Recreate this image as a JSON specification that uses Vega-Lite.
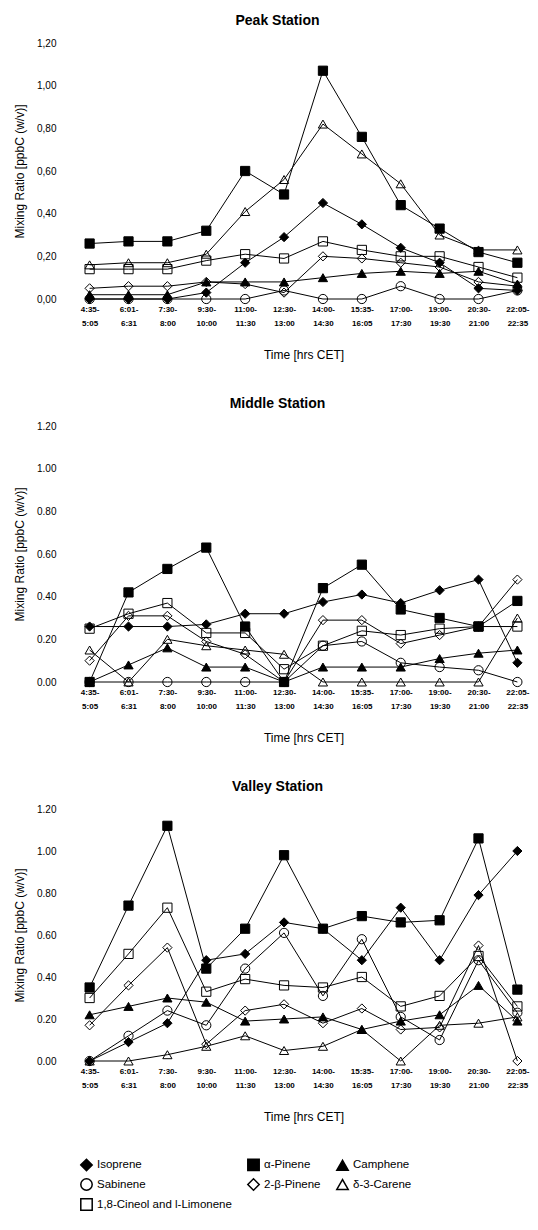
{
  "$schema": "https://vega.github.io/schema/vega-lite/v6.json",
  "background": "white",
  "padding": {"left": 13, "top": 14, "right": 3, "bottom": 5},
  "config": {
    "font": "Liberation Sans",
    "view": {"stroke": null},
    "axis": {"domain": false, "ticks": false, "grid": false, "labelColor": "black", "titleColor": "black"},
    "title": {"fontSize": 14, "fontWeight": "bold", "color": "black", "anchor": "middle", "offset": 10, "dx": -26},
    "legend": {"orient": "bottom", "columns": 3, "title": null, "labelFontSize": 11.5, "labelColor": "black", "symbolSize": 130, "rowPadding": 1, "columnPadding": 12, "offset": 32, "padding": 4}
  },
  "data": {"values": [
    {"s":"Peak","t":"4:35-|5:05","c":"Isoprene","v":0},
    {"s":"Peak","t":"6:01-|6:31","c":"Isoprene","v":0},
    {"s":"Peak","t":"7:30-|8:00","c":"Isoprene","v":0},
    {"s":"Peak","t":"9:30-|10:00","c":"Isoprene","v":0.03},
    {"s":"Peak","t":"11:00-|11:30","c":"Isoprene","v":0.17},
    {"s":"Peak","t":"12:30-|13:00","c":"Isoprene","v":0.29},
    {"s":"Peak","t":"14:00-|14:30","c":"Isoprene","v":0.45},
    {"s":"Peak","t":"15:35-|16:05","c":"Isoprene","v":0.35},
    {"s":"Peak","t":"17:00-|17:30","c":"Isoprene","v":0.24},
    {"s":"Peak","t":"19:00-|19:30","c":"Isoprene","v":0.17},
    {"s":"Peak","t":"20:30-|21:00","c":"Isoprene","v":0.05},
    {"s":"Peak","t":"22:05-|22:35","c":"Isoprene","v":0.04},
    {"s":"Peak","t":"4:35-|5:05","c":"α-Pinene","v":0.26},
    {"s":"Peak","t":"6:01-|6:31","c":"α-Pinene","v":0.27},
    {"s":"Peak","t":"7:30-|8:00","c":"α-Pinene","v":0.27},
    {"s":"Peak","t":"9:30-|10:00","c":"α-Pinene","v":0.32},
    {"s":"Peak","t":"11:00-|11:30","c":"α-Pinene","v":0.60},
    {"s":"Peak","t":"12:30-|13:00","c":"α-Pinene","v":0.49},
    {"s":"Peak","t":"14:00-|14:30","c":"α-Pinene","v":1.07},
    {"s":"Peak","t":"15:35-|16:05","c":"α-Pinene","v":0.76},
    {"s":"Peak","t":"17:00-|17:30","c":"α-Pinene","v":0.44},
    {"s":"Peak","t":"19:00-|19:30","c":"α-Pinene","v":0.33},
    {"s":"Peak","t":"20:30-|21:00","c":"α-Pinene","v":0.22},
    {"s":"Peak","t":"22:05-|22:35","c":"α-Pinene","v":0.17},
    {"s":"Peak","t":"4:35-|5:05","c":"Camphene","v":0.02},
    {"s":"Peak","t":"6:01-|6:31","c":"Camphene","v":0.02},
    {"s":"Peak","t":"7:30-|8:00","c":"Camphene","v":0.02},
    {"s":"Peak","t":"9:30-|10:00","c":"Camphene","v":0.08},
    {"s":"Peak","t":"11:00-|11:30","c":"Camphene","v":0.08},
    {"s":"Peak","t":"12:30-|13:00","c":"Camphene","v":0.08},
    {"s":"Peak","t":"14:00-|14:30","c":"Camphene","v":0.10},
    {"s":"Peak","t":"15:35-|16:05","c":"Camphene","v":0.12},
    {"s":"Peak","t":"17:00-|17:30","c":"Camphene","v":0.13},
    {"s":"Peak","t":"19:00-|19:30","c":"Camphene","v":0.12},
    {"s":"Peak","t":"20:30-|21:00","c":"Camphene","v":0.13},
    {"s":"Peak","t":"22:05-|22:35","c":"Camphene","v":0.07},
    {"s":"Peak","t":"4:35-|5:05","c":"Sabinene","v":0},
    {"s":"Peak","t":"6:01-|6:31","c":"Sabinene","v":0},
    {"s":"Peak","t":"7:30-|8:00","c":"Sabinene","v":0},
    {"s":"Peak","t":"9:30-|10:00","c":"Sabinene","v":0},
    {"s":"Peak","t":"11:00-|11:30","c":"Sabinene","v":0},
    {"s":"Peak","t":"12:30-|13:00","c":"Sabinene","v":0.04},
    {"s":"Peak","t":"14:00-|14:30","c":"Sabinene","v":0},
    {"s":"Peak","t":"15:35-|16:05","c":"Sabinene","v":0},
    {"s":"Peak","t":"17:00-|17:30","c":"Sabinene","v":0.06},
    {"s":"Peak","t":"19:00-|19:30","c":"Sabinene","v":0},
    {"s":"Peak","t":"20:30-|21:00","c":"Sabinene","v":0},
    {"s":"Peak","t":"22:05-|22:35","c":"Sabinene","v":0.04},
    {"s":"Peak","t":"4:35-|5:05","c":"2-β-Pinene","v":0.05},
    {"s":"Peak","t":"6:01-|6:31","c":"2-β-Pinene","v":0.06},
    {"s":"Peak","t":"7:30-|8:00","c":"2-β-Pinene","v":0.06},
    {"s":"Peak","t":"9:30-|10:00","c":"2-β-Pinene","v":0.08},
    {"s":"Peak","t":"11:00-|11:30","c":"2-β-Pinene","v":0.07},
    {"s":"Peak","t":"12:30-|13:00","c":"2-β-Pinene","v":0.03},
    {"s":"Peak","t":"14:00-|14:30","c":"2-β-Pinene","v":0.20},
    {"s":"Peak","t":"15:35-|16:05","c":"2-β-Pinene","v":0.19},
    {"s":"Peak","t":"17:00-|17:30","c":"2-β-Pinene","v":0.17},
    {"s":"Peak","t":"19:00-|19:30","c":"2-β-Pinene","v":0.15},
    {"s":"Peak","t":"20:30-|21:00","c":"2-β-Pinene","v":0.08},
    {"s":"Peak","t":"22:05-|22:35","c":"2-β-Pinene","v":0.06},
    {"s":"Peak","t":"4:35-|5:05","c":"δ-3-Carene","v":0.16},
    {"s":"Peak","t":"6:01-|6:31","c":"δ-3-Carene","v":0.17},
    {"s":"Peak","t":"7:30-|8:00","c":"δ-3-Carene","v":0.17},
    {"s":"Peak","t":"9:30-|10:00","c":"δ-3-Carene","v":0.21},
    {"s":"Peak","t":"11:00-|11:30","c":"δ-3-Carene","v":0.41},
    {"s":"Peak","t":"12:30-|13:00","c":"δ-3-Carene","v":0.56},
    {"s":"Peak","t":"14:00-|14:30","c":"δ-3-Carene","v":0.82},
    {"s":"Peak","t":"15:35-|16:05","c":"δ-3-Carene","v":0.68},
    {"s":"Peak","t":"17:00-|17:30","c":"δ-3-Carene","v":0.54},
    {"s":"Peak","t":"19:00-|19:30","c":"δ-3-Carene","v":0.30},
    {"s":"Peak","t":"20:30-|21:00","c":"δ-3-Carene","v":0.23},
    {"s":"Peak","t":"22:05-|22:35","c":"δ-3-Carene","v":0.23},
    {"s":"Peak","t":"4:35-|5:05","c":"1,8-Cineol and l-Limonene","v":0.14},
    {"s":"Peak","t":"6:01-|6:31","c":"1,8-Cineol and l-Limonene","v":0.14},
    {"s":"Peak","t":"7:30-|8:00","c":"1,8-Cineol and l-Limonene","v":0.14},
    {"s":"Peak","t":"9:30-|10:00","c":"1,8-Cineol and l-Limonene","v":0.18},
    {"s":"Peak","t":"11:00-|11:30","c":"1,8-Cineol and l-Limonene","v":0.21},
    {"s":"Peak","t":"12:30-|13:00","c":"1,8-Cineol and l-Limonene","v":0.19},
    {"s":"Peak","t":"14:00-|14:30","c":"1,8-Cineol and l-Limonene","v":0.27},
    {"s":"Peak","t":"15:35-|16:05","c":"1,8-Cineol and l-Limonene","v":0.23},
    {"s":"Peak","t":"17:00-|17:30","c":"1,8-Cineol and l-Limonene","v":0.20},
    {"s":"Peak","t":"19:00-|19:30","c":"1,8-Cineol and l-Limonene","v":0.20},
    {"s":"Peak","t":"20:30-|21:00","c":"1,8-Cineol and l-Limonene","v":0.15},
    {"s":"Peak","t":"22:05-|22:35","c":"1,8-Cineol and l-Limonene","v":0.10},

    {"s":"Middle","t":"4:35-|5:05","c":"Isoprene","v":0.26},
    {"s":"Middle","t":"6:01-|6:31","c":"Isoprene","v":0.26},
    {"s":"Middle","t":"7:30-|8:00","c":"Isoprene","v":0.26},
    {"s":"Middle","t":"9:30-|10:00","c":"Isoprene","v":0.27},
    {"s":"Middle","t":"11:00-|11:30","c":"Isoprene","v":0.32},
    {"s":"Middle","t":"12:30-|13:00","c":"Isoprene","v":0.32},
    {"s":"Middle","t":"14:00-|14:30","c":"Isoprene","v":0.375},
    {"s":"Middle","t":"15:35-|16:05","c":"Isoprene","v":0.41},
    {"s":"Middle","t":"17:00-|17:30","c":"Isoprene","v":0.37},
    {"s":"Middle","t":"19:00-|19:30","c":"Isoprene","v":0.43},
    {"s":"Middle","t":"20:30-|21:00","c":"Isoprene","v":0.48},
    {"s":"Middle","t":"22:05-|22:35","c":"Isoprene","v":0.09},
    {"s":"Middle","t":"4:35-|5:05","c":"α-Pinene","v":0},
    {"s":"Middle","t":"6:01-|6:31","c":"α-Pinene","v":0.42},
    {"s":"Middle","t":"7:30-|8:00","c":"α-Pinene","v":0.53},
    {"s":"Middle","t":"9:30-|10:00","c":"α-Pinene","v":0.63},
    {"s":"Middle","t":"11:00-|11:30","c":"α-Pinene","v":0.26},
    {"s":"Middle","t":"12:30-|13:00","c":"α-Pinene","v":0},
    {"s":"Middle","t":"14:00-|14:30","c":"α-Pinene","v":0.44},
    {"s":"Middle","t":"15:35-|16:05","c":"α-Pinene","v":0.55},
    {"s":"Middle","t":"17:00-|17:30","c":"α-Pinene","v":0.34},
    {"s":"Middle","t":"19:00-|19:30","c":"α-Pinene","v":0.30},
    {"s":"Middle","t":"20:30-|21:00","c":"α-Pinene","v":0.26},
    {"s":"Middle","t":"22:05-|22:35","c":"α-Pinene","v":0.38},
    {"s":"Middle","t":"4:35-|5:05","c":"Camphene","v":0},
    {"s":"Middle","t":"6:01-|6:31","c":"Camphene","v":0.08},
    {"s":"Middle","t":"7:30-|8:00","c":"Camphene","v":0.16},
    {"s":"Middle","t":"9:30-|10:00","c":"Camphene","v":0.07},
    {"s":"Middle","t":"11:00-|11:30","c":"Camphene","v":0.07},
    {"s":"Middle","t":"12:30-|13:00","c":"Camphene","v":0},
    {"s":"Middle","t":"14:00-|14:30","c":"Camphene","v":0.07},
    {"s":"Middle","t":"15:35-|16:05","c":"Camphene","v":0.07},
    {"s":"Middle","t":"17:00-|17:30","c":"Camphene","v":0.07},
    {"s":"Middle","t":"19:00-|19:30","c":"Camphene","v":0.11},
    {"s":"Middle","t":"20:30-|21:00","c":"Camphene","v":0.135},
    {"s":"Middle","t":"22:05-|22:35","c":"Camphene","v":0.15},
    {"s":"Middle","t":"4:35-|5:05","c":"Sabinene","v":0},
    {"s":"Middle","t":"6:01-|6:31","c":"Sabinene","v":0},
    {"s":"Middle","t":"7:30-|8:00","c":"Sabinene","v":0},
    {"s":"Middle","t":"9:30-|10:00","c":"Sabinene","v":0},
    {"s":"Middle","t":"11:00-|11:30","c":"Sabinene","v":0},
    {"s":"Middle","t":"12:30-|13:00","c":"Sabinene","v":0},
    {"s":"Middle","t":"14:00-|14:30","c":"Sabinene","v":0.17},
    {"s":"Middle","t":"15:35-|16:05","c":"Sabinene","v":0.19},
    {"s":"Middle","t":"17:00-|17:30","c":"Sabinene","v":0.09},
    {"s":"Middle","t":"19:00-|19:30","c":"Sabinene","v":0.07},
    {"s":"Middle","t":"20:30-|21:00","c":"Sabinene","v":0.055},
    {"s":"Middle","t":"22:05-|22:35","c":"Sabinene","v":0},
    {"s":"Middle","t":"4:35-|5:05","c":"2-β-Pinene","v":0.10},
    {"s":"Middle","t":"6:01-|6:31","c":"2-β-Pinene","v":0.31},
    {"s":"Middle","t":"7:30-|8:00","c":"2-β-Pinene","v":0.31},
    {"s":"Middle","t":"9:30-|10:00","c":"2-β-Pinene","v":0.19},
    {"s":"Middle","t":"11:00-|11:30","c":"2-β-Pinene","v":0.13},
    {"s":"Middle","t":"12:30-|13:00","c":"2-β-Pinene","v":0},
    {"s":"Middle","t":"14:00-|14:30","c":"2-β-Pinene","v":0.29},
    {"s":"Middle","t":"15:35-|16:05","c":"2-β-Pinene","v":0.29},
    {"s":"Middle","t":"17:00-|17:30","c":"2-β-Pinene","v":0.18},
    {"s":"Middle","t":"19:00-|19:30","c":"2-β-Pinene","v":0.22},
    {"s":"Middle","t":"20:30-|21:00","c":"2-β-Pinene","v":0.26},
    {"s":"Middle","t":"22:05-|22:35","c":"2-β-Pinene","v":0.48},
    {"s":"Middle","t":"4:35-|5:05","c":"δ-3-Carene","v":0.15},
    {"s":"Middle","t":"6:01-|6:31","c":"δ-3-Carene","v":0},
    {"s":"Middle","t":"7:30-|8:00","c":"δ-3-Carene","v":0.20},
    {"s":"Middle","t":"9:30-|10:00","c":"δ-3-Carene","v":0.17},
    {"s":"Middle","t":"11:00-|11:30","c":"δ-3-Carene","v":0.15},
    {"s":"Middle","t":"12:30-|13:00","c":"δ-3-Carene","v":0.13},
    {"s":"Middle","t":"14:00-|14:30","c":"δ-3-Carene","v":0},
    {"s":"Middle","t":"15:35-|16:05","c":"δ-3-Carene","v":0},
    {"s":"Middle","t":"17:00-|17:30","c":"δ-3-Carene","v":0},
    {"s":"Middle","t":"19:00-|19:30","c":"δ-3-Carene","v":0},
    {"s":"Middle","t":"20:30-|21:00","c":"δ-3-Carene","v":0},
    {"s":"Middle","t":"22:05-|22:35","c":"δ-3-Carene","v":0.30},
    {"s":"Middle","t":"4:35-|5:05","c":"1,8-Cineol and l-Limonene","v":0.25},
    {"s":"Middle","t":"6:01-|6:31","c":"1,8-Cineol and l-Limonene","v":0.32},
    {"s":"Middle","t":"7:30-|8:00","c":"1,8-Cineol and l-Limonene","v":0.37},
    {"s":"Middle","t":"9:30-|10:00","c":"1,8-Cineol and l-Limonene","v":0.23},
    {"s":"Middle","t":"11:00-|11:30","c":"1,8-Cineol and l-Limonene","v":0.23},
    {"s":"Middle","t":"12:30-|13:00","c":"1,8-Cineol and l-Limonene","v":0.06},
    {"s":"Middle","t":"14:00-|14:30","c":"1,8-Cineol and l-Limonene","v":0.17},
    {"s":"Middle","t":"15:35-|16:05","c":"1,8-Cineol and l-Limonene","v":0.24},
    {"s":"Middle","t":"17:00-|17:30","c":"1,8-Cineol and l-Limonene","v":0.22},
    {"s":"Middle","t":"19:00-|19:30","c":"1,8-Cineol and l-Limonene","v":0.25},
    {"s":"Middle","t":"20:30-|21:00","c":"1,8-Cineol and l-Limonene","v":0.26},
    {"s":"Middle","t":"22:05-|22:35","c":"1,8-Cineol and l-Limonene","v":0.26},

    {"s":"Valley","t":"4:35-|5:05","c":"Isoprene","v":0},
    {"s":"Valley","t":"6:01-|6:31","c":"Isoprene","v":0.09},
    {"s":"Valley","t":"7:30-|8:00","c":"Isoprene","v":0.18},
    {"s":"Valley","t":"9:30-|10:00","c":"Isoprene","v":0.48},
    {"s":"Valley","t":"11:00-|11:30","c":"Isoprene","v":0.51},
    {"s":"Valley","t":"12:30-|13:00","c":"Isoprene","v":0.66},
    {"s":"Valley","t":"14:00-|14:30","c":"Isoprene","v":0.63},
    {"s":"Valley","t":"15:35-|16:05","c":"Isoprene","v":0.48},
    {"s":"Valley","t":"17:00-|17:30","c":"Isoprene","v":0.73},
    {"s":"Valley","t":"19:00-|19:30","c":"Isoprene","v":0.48},
    {"s":"Valley","t":"20:30-|21:00","c":"Isoprene","v":0.79},
    {"s":"Valley","t":"22:05-|22:35","c":"Isoprene","v":1.00},
    {"s":"Valley","t":"4:35-|5:05","c":"α-Pinene","v":0.35},
    {"s":"Valley","t":"6:01-|6:31","c":"α-Pinene","v":0.74},
    {"s":"Valley","t":"7:30-|8:00","c":"α-Pinene","v":1.12},
    {"s":"Valley","t":"9:30-|10:00","c":"α-Pinene","v":0.44},
    {"s":"Valley","t":"11:00-|11:30","c":"α-Pinene","v":0.63},
    {"s":"Valley","t":"12:30-|13:00","c":"α-Pinene","v":0.98},
    {"s":"Valley","t":"14:00-|14:30","c":"α-Pinene","v":0.63},
    {"s":"Valley","t":"15:35-|16:05","c":"α-Pinene","v":0.69},
    {"s":"Valley","t":"17:00-|17:30","c":"α-Pinene","v":0.66},
    {"s":"Valley","t":"19:00-|19:30","c":"α-Pinene","v":0.67},
    {"s":"Valley","t":"20:30-|21:00","c":"α-Pinene","v":1.06},
    {"s":"Valley","t":"22:05-|22:35","c":"α-Pinene","v":0.34},
    {"s":"Valley","t":"4:35-|5:05","c":"Camphene","v":0.22},
    {"s":"Valley","t":"6:01-|6:31","c":"Camphene","v":0.26},
    {"s":"Valley","t":"7:30-|8:00","c":"Camphene","v":0.30},
    {"s":"Valley","t":"9:30-|10:00","c":"Camphene","v":0.28},
    {"s":"Valley","t":"11:00-|11:30","c":"Camphene","v":0.19},
    {"s":"Valley","t":"12:30-|13:00","c":"Camphene","v":0.20},
    {"s":"Valley","t":"14:00-|14:30","c":"Camphene","v":0.21},
    {"s":"Valley","t":"15:35-|16:05","c":"Camphene","v":0.15},
    {"s":"Valley","t":"17:00-|17:30","c":"Camphene","v":0.19},
    {"s":"Valley","t":"19:00-|19:30","c":"Camphene","v":0.22},
    {"s":"Valley","t":"20:30-|21:00","c":"Camphene","v":0.36},
    {"s":"Valley","t":"22:05-|22:35","c":"Camphene","v":0.19},
    {"s":"Valley","t":"4:35-|5:05","c":"Sabinene","v":0},
    {"s":"Valley","t":"6:01-|6:31","c":"Sabinene","v":0.12},
    {"s":"Valley","t":"7:30-|8:00","c":"Sabinene","v":0.24},
    {"s":"Valley","t":"9:30-|10:00","c":"Sabinene","v":0.17},
    {"s":"Valley","t":"11:00-|11:30","c":"Sabinene","v":0.44},
    {"s":"Valley","t":"12:30-|13:00","c":"Sabinene","v":0.61},
    {"s":"Valley","t":"14:00-|14:30","c":"Sabinene","v":0.31},
    {"s":"Valley","t":"15:35-|16:05","c":"Sabinene","v":0.58},
    {"s":"Valley","t":"17:00-|17:30","c":"Sabinene","v":0.21},
    {"s":"Valley","t":"19:00-|19:30","c":"Sabinene","v":0.10},
    {"s":"Valley","t":"20:30-|21:00","c":"Sabinene","v":0.48},
    {"s":"Valley","t":"22:05-|22:35","c":"Sabinene","v":0.23},
    {"s":"Valley","t":"4:35-|5:05","c":"2-β-Pinene","v":0.17},
    {"s":"Valley","t":"6:01-|6:31","c":"2-β-Pinene","v":0.36},
    {"s":"Valley","t":"7:30-|8:00","c":"2-β-Pinene","v":0.54},
    {"s":"Valley","t":"9:30-|10:00","c":"2-β-Pinene","v":0.08},
    {"s":"Valley","t":"11:00-|11:30","c":"2-β-Pinene","v":0.24},
    {"s":"Valley","t":"12:30-|13:00","c":"2-β-Pinene","v":0.27},
    {"s":"Valley","t":"14:00-|14:30","c":"2-β-Pinene","v":0.18},
    {"s":"Valley","t":"15:35-|16:05","c":"2-β-Pinene","v":0.25},
    {"s":"Valley","t":"17:00-|17:30","c":"2-β-Pinene","v":0.15},
    {"s":"Valley","t":"19:00-|19:30","c":"2-β-Pinene","v":0.16},
    {"s":"Valley","t":"20:30-|21:00","c":"2-β-Pinene","v":0.55},
    {"s":"Valley","t":"22:05-|22:35","c":"2-β-Pinene","v":0},
    {"s":"Valley","t":"4:35-|5:05","c":"δ-3-Carene","v":0},
    {"s":"Valley","t":"6:01-|6:31","c":"δ-3-Carene","v":0},
    {"s":"Valley","t":"7:30-|8:00","c":"δ-3-Carene","v":0.03},
    {"s":"Valley","t":"9:30-|10:00","c":"δ-3-Carene","v":0.07},
    {"s":"Valley","t":"11:00-|11:30","c":"δ-3-Carene","v":0.12},
    {"s":"Valley","t":"12:30-|13:00","c":"δ-3-Carene","v":0.05},
    {"s":"Valley","t":"14:00-|14:30","c":"δ-3-Carene","v":0.07},
    {"s":"Valley","t":"15:35-|16:05","c":"δ-3-Carene","v":0.15},
    {"s":"Valley","t":"17:00-|17:30","c":"δ-3-Carene","v":0},
    {"s":"Valley","t":"19:00-|19:30","c":"δ-3-Carene","v":0.17},
    {"s":"Valley","t":"20:30-|21:00","c":"δ-3-Carene","v":0.18},
    {"s":"Valley","t":"22:05-|22:35","c":"δ-3-Carene","v":0.21},
    {"s":"Valley","t":"4:35-|5:05","c":"1,8-Cineol and l-Limonene","v":0.30},
    {"s":"Valley","t":"6:01-|6:31","c":"1,8-Cineol and l-Limonene","v":0.51},
    {"s":"Valley","t":"7:30-|8:00","c":"1,8-Cineol and l-Limonene","v":0.73},
    {"s":"Valley","t":"9:30-|10:00","c":"1,8-Cineol and l-Limonene","v":0.33},
    {"s":"Valley","t":"11:00-|11:30","c":"1,8-Cineol and l-Limonene","v":0.39},
    {"s":"Valley","t":"12:30-|13:00","c":"1,8-Cineol and l-Limonene","v":0.36},
    {"s":"Valley","t":"14:00-|14:30","c":"1,8-Cineol and l-Limonene","v":0.35},
    {"s":"Valley","t":"15:35-|16:05","c":"1,8-Cineol and l-Limonene","v":0.40},
    {"s":"Valley","t":"17:00-|17:30","c":"1,8-Cineol and l-Limonene","v":0.26},
    {"s":"Valley","t":"19:00-|19:30","c":"1,8-Cineol and l-Limonene","v":0.31},
    {"s":"Valley","t":"20:30-|21:00","c":"1,8-Cineol and l-Limonene","v":0.50},
    {"s":"Valley","t":"22:05-|22:35","c":"1,8-Cineol and l-Limonene","v":0.26}
  ]},
  "spacing": 37,
  "resolve": {"scale": {"shape": "shared", "fill": "shared"}, "legend": {"shape": "shared", "fill": "shared"}},
  "vconcat": [
    {
      "title": "Peak Station",
      "width": 455, "height": 256,
      "transform": [{"filter": "datum.s === 'Peak'"}],
      "encoding": {
        "x": {"field": "t", "type": "ordinal", "sort": ["4:35-|5:05","6:01-|6:31","7:30-|8:00","9:30-|10:00","11:00-|11:30","12:30-|13:00","14:00-|14:30","15:35-|16:05","17:00-|17:30","19:00-|19:30","20:30-|21:00","22:05-|22:35"], "scale": {"type": "point", "padding": 0.35},
          "axis": {"title": "Time [hrs CET]", "labelAngle": 0, "labelExpr": "split(datum.label, '|')", "labelFontSize": 8, "labelFontWeight": "bold", "labelLineHeight": 14, "labelPadding": 6, "titleFontSize": 12, "titleFontWeight": "normal", "titlePadding": 22}},
        "y": {"field": "v", "type": "quantitative", "scale": {"domain": [0, 1.2]},
          "axis": {"title": "Mixing Ratio [ppbC (w/v)]", "values": [0, 0.2, 0.4, 0.6, 0.8, 1.0, 1.2], "labelExpr": "replace(format(datum.value, '.2f'), '.', ',')", "labelFontSize": 10, "labelPadding": 20, "titleFontSize": 12, "titleFontWeight": "normal", "titlePadding": 10}}
      },
      "layer": [
        {"mark": {"type": "line", "color": "black", "strokeWidth": 1}, "encoding": {"detail": {"field": "c"}}},
        {"mark": {"type": "point", "filled": true, "stroke": "black", "strokeWidth": 1, "opacity": 1, "size": 85},
          "encoding": {
            "shape": {"field": "c", "type": "nominal", "scale": {"domain": ["Isoprene","α-Pinene","Camphene","Sabinene","2-β-Pinene","δ-3-Carene","1,8-Cineol and l-Limonene"], "range": ["diamond","square","triangle-up","circle","diamond","triangle-up","square"]},
              "legend": {"encode": {"symbols": {"update": {"stroke": {"value": "black"}, "strokeWidth": {"value": 1}}}}}},
            "fill": {"field": "c", "type": "nominal", "scale": {"domain": ["Isoprene","α-Pinene","Camphene","Sabinene","2-β-Pinene","δ-3-Carene","1,8-Cineol and l-Limonene"], "range": ["black","black","black","transparent","transparent","transparent","transparent"]},
              "legend": {"encode": {"symbols": {"update": {"stroke": {"value": "black"}, "strokeWidth": {"value": 1}}}}}}
          }}
      ]
    },
    {
      "title": "Middle Station",
      "width": 455, "height": 256,
      "transform": [{"filter": "datum.s === 'Middle'"}],
      "encoding": {
        "x": {"field": "t", "type": "ordinal", "sort": ["4:35-|5:05","6:01-|6:31","7:30-|8:00","9:30-|10:00","11:00-|11:30","12:30-|13:00","14:00-|14:30","15:35-|16:05","17:00-|17:30","19:00-|19:30","20:30-|21:00","22:05-|22:35"], "scale": {"type": "point", "padding": 0.35},
          "axis": {"title": "Time [hrs CET]", "labelAngle": 0, "labelExpr": "split(datum.label, '|')", "labelFontSize": 8, "labelFontWeight": "bold", "labelLineHeight": 14, "labelPadding": 6, "titleFontSize": 12, "titleFontWeight": "normal", "titlePadding": 22}},
        "y": {"field": "v", "type": "quantitative", "scale": {"domain": [0, 1.2]},
          "axis": {"title": "Mixing Ratio [ppbC (w/v)]", "values": [0, 0.2, 0.4, 0.6, 0.8, 1.0, 1.2], "format": ".2f", "labelFontSize": 10, "labelPadding": 20, "titleFontSize": 12, "titleFontWeight": "normal", "titlePadding": 10}}
      },
      "layer": [
        {"mark": {"type": "line", "color": "black", "strokeWidth": 1}, "encoding": {"detail": {"field": "c"}}},
        {"mark": {"type": "point", "filled": true, "stroke": "black", "strokeWidth": 1, "opacity": 1, "size": 85},
          "encoding": {
            "shape": {"field": "c", "type": "nominal", "scale": {"domain": ["Isoprene","α-Pinene","Camphene","Sabinene","2-β-Pinene","δ-3-Carene","1,8-Cineol and l-Limonene"], "range": ["diamond","square","triangle-up","circle","diamond","triangle-up","square"]},
              "legend": {"encode": {"symbols": {"update": {"stroke": {"value": "black"}, "strokeWidth": {"value": 1}}}}}},
            "fill": {"field": "c", "type": "nominal", "scale": {"domain": ["Isoprene","α-Pinene","Camphene","Sabinene","2-β-Pinene","δ-3-Carene","1,8-Cineol and l-Limonene"], "range": ["black","black","black","transparent","transparent","transparent","transparent"]},
              "legend": {"encode": {"symbols": {"update": {"stroke": {"value": "black"}, "strokeWidth": {"value": 1}}}}}}
          }}
      ]
    },
    {
      "title": "Valley Station",
      "width": 455, "height": 252,
      "transform": [{"filter": "datum.s === 'Valley'"}],
      "encoding": {
        "x": {"field": "t", "type": "ordinal", "sort": ["4:35-|5:05","6:01-|6:31","7:30-|8:00","9:30-|10:00","11:00-|11:30","12:30-|13:00","14:00-|14:30","15:35-|16:05","17:00-|17:30","19:00-|19:30","20:30-|21:00","22:05-|22:35"], "scale": {"type": "point", "padding": 0.35},
          "axis": {"title": "Time [hrs CET]", "labelAngle": 0, "labelExpr": "split(datum.label, '|')", "labelFontSize": 8, "labelFontWeight": "bold", "labelLineHeight": 14, "labelPadding": 6, "titleFontSize": 12, "titleFontWeight": "normal", "titlePadding": 22}},
        "y": {"field": "v", "type": "quantitative", "scale": {"domain": [0, 1.2]},
          "axis": {"title": "Mixing Ratio [ppbC (w/v)]", "values": [0, 0.2, 0.4, 0.6, 0.8, 1.0, 1.2], "format": ".2f", "labelFontSize": 10, "labelPadding": 20, "titleFontSize": 12, "titleFontWeight": "normal", "titlePadding": 10}}
      },
      "layer": [
        {"mark": {"type": "line", "color": "black", "strokeWidth": 1}, "encoding": {"detail": {"field": "c"}}},
        {"mark": {"type": "point", "filled": true, "stroke": "black", "strokeWidth": 1, "opacity": 1, "size": 85},
          "encoding": {
            "shape": {"field": "c", "type": "nominal", "scale": {"domain": ["Isoprene","α-Pinene","Camphene","Sabinene","2-β-Pinene","δ-3-Carene","1,8-Cineol and l-Limonene"], "range": ["diamond","square","triangle-up","circle","diamond","triangle-up","square"]},
              "legend": {"encode": {"symbols": {"update": {"stroke": {"value": "black"}, "strokeWidth": {"value": 1}}}}}},
            "fill": {"field": "c", "type": "nominal", "scale": {"domain": ["Isoprene","α-Pinene","Camphene","Sabinene","2-β-Pinene","δ-3-Carene","1,8-Cineol and l-Limonene"], "range": ["black","black","black","transparent","transparent","transparent","transparent"]},
              "legend": {"encode": {"symbols": {"update": {"stroke": {"value": "black"}, "strokeWidth": {"value": 1}}}}}}
          }}
      ]
    }
  ]
}
